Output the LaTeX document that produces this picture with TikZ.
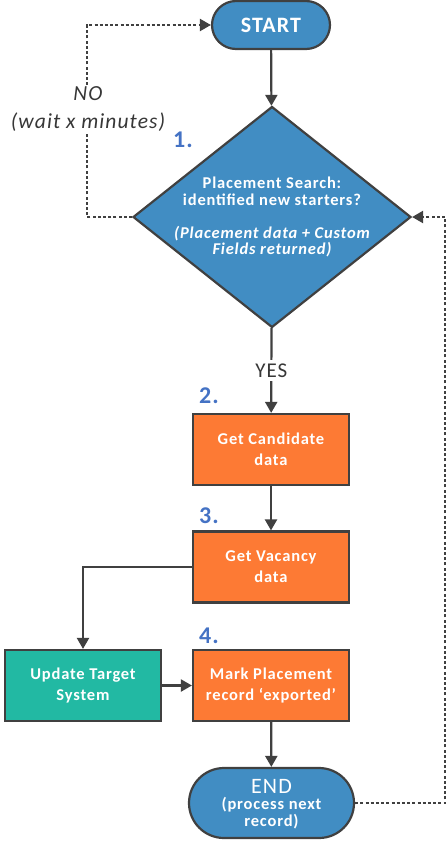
\documentclass[tikz,border=0pt]{standalone}
\usepackage{fontspec}
\setmainfont{Carlito}[LetterSpace=5]
\usepackage{tikz}
\usetikzlibrary{shapes.geometric}
\usetikzlibrary{arrows.meta}
\usepackage{xcolor}
\definecolor{flowblue}{RGB}{65,141,195}
\definecolor{floworange}{RGB}{253,122,52}
\definecolor{flowteal}{RGB}{34,185,163}
\definecolor{flowline}{RGB}{64,64,64}
\definecolor{stepblue}{RGB}{68,114,196}
\definecolor{notegray}{RGB}{55,55,55}

\tikzset{
  terminal/.style={draw=flowline, line width=2.2pt, fill=flowblue, text=white, align=center},
  process/.style={draw=flowline, line width=2.2pt, fill=floworange, text=white, align=center,
    minimum width=156pt, minimum height=71pt, inner sep=0pt, font=\bfseries\fontsize{16.5}{21}\selectfont},
  decision/.style={draw=flowline, line width=2.2pt, fill=flowblue, text=white, align=center, diamond,
    minimum width=278pt, minimum height=221pt, inner sep=-25pt, font=\bfseries\fontsize{16.5}{16.5}\selectfont},
  stepnum/.style={text=stepblue, font=\bfseries\fontsize{24}{24}\selectfont, inner sep=0pt},
  note/.style={text=notegray, fill=white, align=center, inner sep=1pt},
  arrow/.style={draw=flowline, line width=2.2pt, -{Triangle[length=11pt,width=12pt]}},
  loopline/.style={draw=flowline, line width=2.2pt, dash pattern=on 3pt off 2.2pt, -{Triangle[length=11pt,width=12pt]}}
}

\begin{document}
\begin{tikzpicture}[x=1pt,y=-1pt]
\useasboundingbox (0,0) rectangle (447,841);
\node[terminal, minimum width=118pt, minimum height=48pt, rounded corners=24pt,
  font=\bfseries\fontsize{22}{22}\selectfont] (start) at (271,25) {START};
\node[decision] (search) at (272,217) {Placement Search:\\identified new starters?\\[16.5pt]
  \itshape(Placement data + Custom\\\itshape Fields returned)};
\node[process] (cand) at (271,449.5) {Get Candidate\\data};
\node[process] (vac) at (271,567) {Get Vacancy\\data};
\node[process] (mark) at (271,685.5) {Mark Placement\\record `exported'};
\node[process, fill=flowteal] (update) at (83,685.5) {Update Target\\System};
\node[terminal, minimum width=165pt, minimum height=70pt, rounded corners=35pt, inner sep=0pt,
  font=\fontsize{16.5}{17}\selectfont] (finish) at (271.5,803)
  {\rule{0pt}{17pt}\fontsize{22}{22}\selectfont END\\[-1pt]\bfseries\fontsize{16.5}{17}\selectfont(process next\\\bfseries record)};

\node[stepnum] (n1) at (183,140) {1.};
\node[stepnum] (n2) at (209,396) {2.};
\node[stepnum] (n3) at (209,516) {3.};
\node[stepnum] (n4) at (209,636) {4.};

\coordinate (loopleft) at (87,217);
\coordinate (loopright) at (445,217);

\draw[arrow] (start) -- (search);
\draw[arrow] (search) -- node[note, font=\fontsize{21}{21}\selectfont, inner ysep=4pt] (yes) {YES} (cand);
\draw[arrow] (cand) -- (vac);
\draw[arrow] (vac.west) -| (update.north);
\draw[arrow] (update) -- (mark);
\draw[arrow] (mark) -- (finish);
\draw[loopline] (search.west) -- (loopleft) |- (start.west);
\draw[loopline] (finish.east) -| (loopright) -- (search.east);
\node[note, font=\itshape\fontsize{21.5}{28}\selectfont] (nolabel) at (88,109) {NO\\(wait x minutes)};
\end{tikzpicture}
\end{document}
